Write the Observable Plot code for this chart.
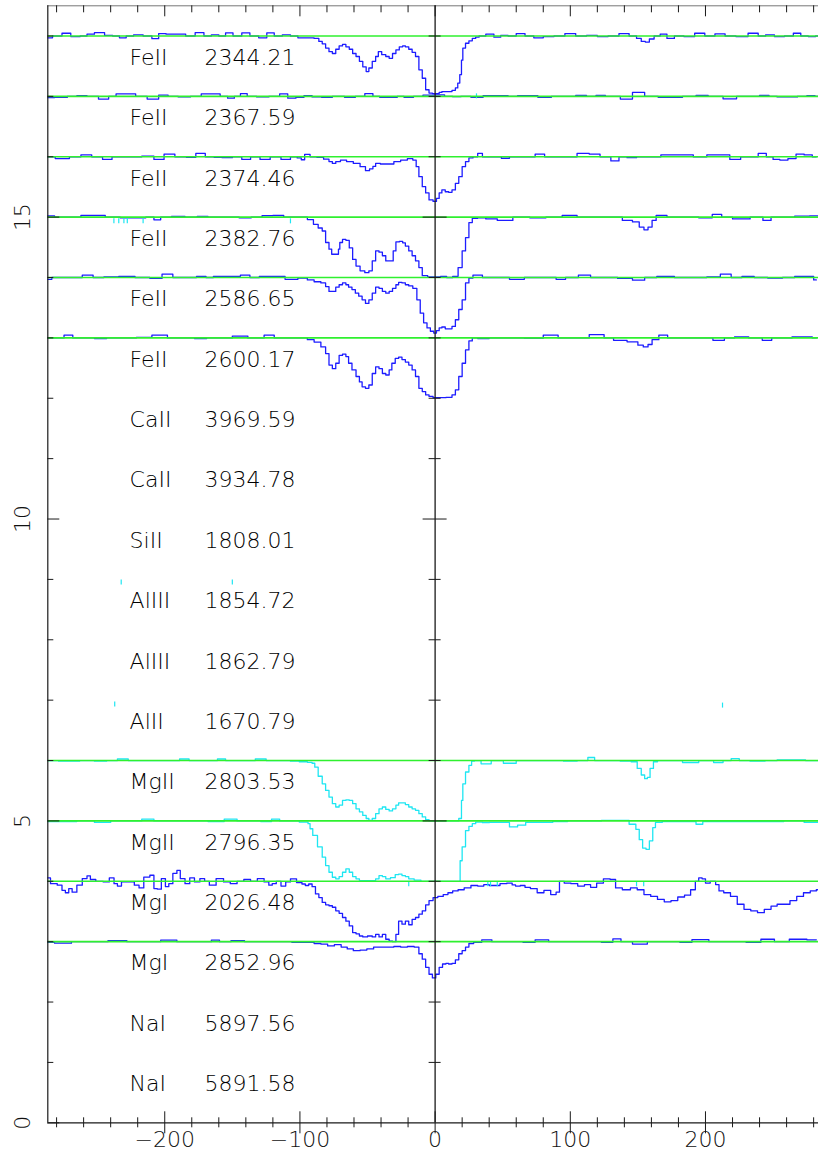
<!DOCTYPE html>
<html><head><meta charset="utf-8">
<script src="https://cdn.jsdelivr.net/npm/d3@7"></script>
<script src="https://cdn.jsdelivr.net/npm/@observablehq/plot@0.6"></script>
<style>body{margin:0;background:#fff}</style>
</head><body><div id="chart"></div>
<script>
// ---- labels ----
const ions = ["FeII","FeII","FeII","FeII","FeII","FeII","CaII","CaII","SiII","AlIII","AlIII","AlII","MgII","MgII","MgI","MgI","NaI","NaI"];
const wavelengths = ["2344.21","2367.59","2374.46","2382.76","2586.65","2600.17","3969.59","3934.78","1808.01","1854.72","1862.79","1670.79","2803.53","2796.35","2026.48","2852.96","5897.56","5891.58"];
const rowOffsets = [18,17,16,15,14,13,12,11,10,9,8,7,6,5,4,3,2,1];
const continuumRows = [18,17,16,15,14,13,6,5,4,3];
const xMajorTicks = [-200,-100,0,100,200];
const xMinorTicks = [-280,-260,-240,-220,-180,-160,-140,-120,-80,-60,-40,-20,20,40,60,80,120,140,160,180,220,240,260,280];
const yMajorTicks = [0,5,10,15];
const yMinorTicks = [1,2,3,4,6,7,8,9,11,12,13,14,16,17,18];

// ---- spectra: [velocity km/s, normalised flux] ----
const feII2344 = [[-287,0.97],[-279,1.0],[-273,1.045],[-266,0.99],[-259,1.0],[-256,1.03],[-248,1.055],[-241,1.01],[-236,1.0],[-231,0.97],[-226,1.0],[-220,1.02],[-212,1.0],[-207,0.955],[-202,1.04],[-196,1.03],[-188,1.03],[-181,1.0],[-174,1.055],[-168,1.0],[-163,1.02],[-157,1.0],[-153,1.05],[-146,1.0],[-140,1.05],[-134,1.0],[-127,0.97],[-122,1.05],[-116,1.0],[-110,1.02],[-104,1.0],[-99,0.97],[-95,0.97],
[-92,0.97],[-87,0.96],[-85,0.91],[-82,0.87],[-80,0.80],[-77,0.74],[-75,0.71],[-72,0.78],[-70,0.835],[-67,0.86],[-65,0.82],[-62,0.78],[-60,0.71],[-57,0.66],[-55,0.58],[-52,0.49],[-50,0.41],[-48,0.47],[-45,0.58],[-43,0.66],[-41,0.74],[-38,0.69],[-35,0.66],[-33,0.63],[-30,0.71],[-28,0.77],[-25,0.82],[-23,0.835],[-21,0.82],[-18,0.78],[-16,0.73],[-13,0.66],[-11,0.44],[-8,0.30],[-6,0.11],[-3,0.055],[-1,0.045],[2,0.045],[4,0.066],[6,0.08],[9,0.08],[11,0.08],[14,0.10],[16,0.14],[17.5,0.22],[19,0.36],[20,0.60],[21,0.80],[24,0.88],[26,0.92],[29,0.96],[31,0.98],[34,1.0],
[41,1.03],[46,0.98],[51,1.01],[57,1.0],[63,1.04],[70,1.0],[76,0.97],[84,0.99],[92,1.0],[100,1.04],[108,1.0],[116,1.01],[124,0.99],[132,1.0],[140,1.04],[147,1.0],[151,0.96],[154,0.91],[157,0.90],[160,0.95],[164,1.0],[169,1.03],[174,0.96],[180,1.0],[188,0.99],[196,1.045],[203,1.0],[211,1.035],[218,1.0],[227,0.99],[236,1.045],[242,1.0],[247,1.02],[255,0.99],[262,1.0],[268,1.045],[273,1.0],[279,0.99],[284,1.0]];

const feII2367 = [[-287,0.98],[-276,0.985],[-268,1.0],[-262,1.01],[-253,1.0],[-245,0.955],[-238,1.0],[-234,1.04],[-225,1.04],[-218,1.0],[-208,0.955],[-201,1.02],[-194,1.0],[-186,0.99],[-176,1.0],[-170,1.04],[-162,1.04],[-156,1.0],[-151,0.97],[-146,1.0],[-142,1.045],[-136,1.0],[-128,0.99],[-118,1.0],[-112,1.04],[-106,0.97],[-100,0.985],[-94,1.01],[-88,0.99],[-80,0.985],[-72,1.0],[-62,0.985],[-56,1.0],[-48,1.045],[-44,1.0],[-38,0.985],[-30,0.985],[-26,1.0],[-20,0.985],[-12,1.0],[-6,1.02],[4,1.025],[10,1.0],[16,0.995],[22,1.0],[31,0.985],[40,1.01],[50,1.01],[58,1.0],[64,1.01],[72,1.01],[80,0.985],[92,1.0],[100,1.0],[108,1.015],[116,1.0],[122,1.015],[130,1.0],[144,0.955],[148,1.065],[162,1.0],[168,0.985],[178,0.985],[188,1.0],[198,1.015],[206,1.0],[220,0.96],[226,1.0],[236,1.0],[244,1.015],[250,1.0],[256,0.99],[264,0.99],[272,1.0],[278,1.01],[284,1.0]];

const feII2374 = [[-287,1.0],[-275,0.97],[-266,1.0],[-258,1.03],[-250,1.0],[-242,0.955],[-236,1.0],[-222,1.0],[-212,1.01],[-204,0.955],[-197,1.045],[-188,1.0],[-180,0.99],[-174,1.055],[-166,1.0],[-161,0.99],[-154,0.985],[-146,1.0],[-140,0.955],[-133,1.0],[-126,0.955],[-118,1.0],[-110,0.955],[-104,1.0],[-100,0.98],[-98,0.95],[-95,1.04],[-90,1.0],[-85,0.99],[-80,0.96],[-77,0.92],[-75,0.89],[-72,0.92],[-68,0.945],[-63,0.92],[-58,0.89],[-53,0.835],[-50,0.77],[-47,0.80],[-45,0.84],[-43,0.89],[-38,0.88],[-33,0.88],[-28,0.92],[-23,0.945],[-18,0.97],[-15,0.945],[-13,0.835],[-11,0.67],[-8,0.505],[-6,0.40],[-3,0.285],[0,0.26],[2,0.31],[4,0.40],[6,0.45],[9,0.42],[11,0.41],[14,0.45],[16,0.56],[19,0.67],[21,0.835],[24,0.92],[26,0.98],[30,1.0],[33,1.055],[37,1.0],[46,1.0],[52,0.975],[58,1.0],[70,1.0],[78,1.045],[84,1.0],[92,1.0],[100,1.0],[110,1.055],[118,1.045],[126,1.0],[134,0.93],[138,1.0],[146,0.985],[152,1.0],[160,1.0],[174,1.03],[186,1.03],[196,1.0],[206,1.03],[214,1.03],[222,0.955],[230,1.0],[236,1.0],[242,1.055],[248,1.0],[252,0.955],[258,0.945],[264,0.97],[270,1.045],[276,1.03],[282,1.0]];

const feII2382 = [[-287,1.02],[-276,1.0],[-266,1.0],[-258,1.03],[-248,1.03],[-240,1.0],[-226,0.99],[-218,0.99],[-210,1.0],[-206,0.955],[-200,1.0],[-190,1.01],[-180,1.0],[-172,1.01],[-164,1.0],[-150,1.0],[-140,0.99],[-132,1.0],[-124,1.025],[-116,1.03],[-108,1.0],[-100,1.0],
[-97,1.0],[-92,0.96],[-88,0.88],[-85,0.82],[-82,0.77],[-80,0.58],[-77,0.47],[-76,0.385],[-72,0.385],[-71,0.47],[-70,0.58],[-67,0.63],[-65,0.615],[-62,0.49],[-60,0.30],[-57,0.19],[-54,0.11],[-50,0.08],[-48,0.11],[-45,0.275],[-43,0.44],[-40,0.42],[-38,0.36],[-35,0.275],[-32,0.275],[-30,0.44],[-28,0.59],[-25,0.60],[-23,0.575],[-21,0.52],[-18,0.44],[-16,0.36],[-13,0.275],[-11,0.165],[-8,0.03],[-3,0.01],[2,0.01],[6,0.02],[11,0.0],[15,0.02],[19,0.165],[21,0.44],[24,0.66],[26,0.91],[29,0.98],[34,0.99],
[41,0.97],[51,0.945],[64,1.0],[76,0.99],[88,1.0],[100,1.03],[110,1.0],[122,1.0],[134,1.0],[143,0.945],[149,0.92],[153,0.835],[156,0.79],[159,0.835],[162,0.945],[165,1.03],[178,1.0],[190,1.0],[200,0.99],[210,1.045],[214,1.0],[226,0.97],[240,1.0],[245,0.945],[252,1.0],[262,1.0],[270,1.015],[284,1.02]];

const feII2586 = [[-287,0.97],[-280,1.0],[-266,1.0],[-256,1.04],[-250,1.0],[-240,1.01],[-228,1.02],[-216,1.0],[-206,0.985],[-198,1.055],[-190,1.0],[-180,1.0],[-173,1.02],[-166,1.0],[-162,1.02],[-148,1.02],[-140,1.04],[-134,1.0],[-126,1.02],[-116,1.02],[-106,0.97],[-97,0.99],
[-92,0.96],[-87,0.93],[-82,0.91],[-80,0.85],[-77,0.77],[-75,0.77],[-72,0.84],[-70,0.88],[-67,0.91],[-65,0.88],[-63,0.84],[-60,0.80],[-58,0.74],[-55,0.69],[-53,0.63],[-50,0.57],[-48,0.63],[-45,0.74],[-43,0.84],[-40,0.82],[-38,0.77],[-35,0.74],[-33,0.77],[-30,0.82],[-28,0.88],[-26,0.92],[-23,0.91],[-21,0.88],[-18,0.86],[-15,0.82],[-12,0.63],[-10,0.41],[-7,0.25],[-5,0.165],[-2,0.11],[0,0.08],[2,0.12],[4,0.165],[6,0.18],[9,0.15],[11,0.15],[14,0.19],[16,0.30],[19,0.47],[21,0.63],[24,0.91],[26,0.99],
[30,1.04],[40,1.0],[52,1.0],[58,0.97],[74,1.0],[86,1.0],[93,0.97],[100,1.0],[112,1.04],[118,1.0],[130,1.0],[140,0.985],[152,0.955],[158,1.0],[170,1.02],[184,1.0],[196,1.0],[206,1.01],[216,1.055],[222,1.0],[232,1.02],[240,1.0],[252,0.99],[262,1.0],[270,1.02],[278,1.02],[282,0.96]];

const feII2600 = [[-287,1.0],[-277,1.0],[-272,1.045],[-264,1.0],[-256,1.0],[-248,0.99],[-238,1.0],[-226,1.0],[-216,1.01],[-203,1.045],[-193,1.0],[-182,1.0],[-174,0.99],[-164,1.0],[-152,1.0],[-148,1.03],[-129,1.0],[-124,1.045],[-114,1.0],[-104,1.0],[-97,1.0],
[-92,0.97],[-87,0.93],[-82,0.85],[-80,0.74],[-77,0.55],[-75,0.49],[-72,0.58],[-70,0.71],[-67,0.73],[-65,0.69],[-63,0.58],[-60,0.47],[-57,0.36],[-55,0.27],[-53,0.19],[-50,0.165],[-48,0.22],[-45,0.41],[-43,0.52],[-40,0.49],[-38,0.41],[-35,0.385],[-33,0.47],[-31,0.58],[-28,0.66],[-26,0.68],[-23,0.64],[-21,0.60],[-18,0.55],[-16,0.47],[-13,0.36],[-11,0.165],[-8,0.11],[-6,0.055],[-3,0.03],[0,0.01],[5,0.01],[11,0.016],[14,0.055],[16,0.14],[19,0.36],[21,0.58],[24,0.80],[26,0.95],[29,1.0],
[34,0.99],[46,1.0],[60,1.0],[72,0.995],[88,1.045],[94,1.0],[106,1.0],[122,1.055],[128,1.0],[136,0.96],[148,0.935],[152,0.88],[156,0.85],[159,0.89],[162,0.97],[169,1.045],[175,1.0],[186,1.0],[200,1.0],[211,0.96],[217,1.0],[226,1.015],[238,1.0],[246,0.96],[252,1.0],[262,1.0],[266,1.015],[276,1.015],[282,1.0]];

const mgII2803 = [[-287,1.0],[-270,0.99],[-256,1.0],[-248,0.99],[-238,1.0],[-232,1.025],[-222,1.0],[-206,1.0],[-192,1.0],[-186,1.025],[-178,1.0],[-164,1.0],[-158,1.025],[-152,1.0],[-138,1.0],[-128,1.025],[-122,1.0],[-110,1.0],[-104,0.99],[-97,0.98],
[-92,0.97],[-90,0.955],[-88,0.89],[-85,0.74],[-82,0.615],[-80,0.505],[-77,0.395],[-75,0.285],[-72,0.23],[-70,0.26],[-67,0.34],[-65,0.35],[-62,0.34],[-60,0.285],[-57,0.20],[-55,0.15],[-52,0.09],[-50,0.04],[-48,0.01],[-45,0.04],[-43,0.12],[-40,0.20],[-38,0.23],[-35,0.19],[-33,0.165],[-30,0.20],[-28,0.26],[-26,0.30],[-23,0.30],[-21,0.27],[-18,0.23],[-16,0.20],[-13,0.175],[-11,0.12],[-8,0.066],[-6,0.02],[-3,0.0],[16,0.0],[19,0.04],[20,0.34],[21,0.615],[24,0.81],[26,0.92],[28,0.99],
[30,1.0],[38,0.945],[45,1.0],[56,0.955],[64,1.0],[76,1.0],[90,1.0],[100,0.99],[110,1.0],[116,1.05],[120,1.0],[132,1.0],[142,0.99],[148,0.98],[151,0.87],[154,0.76],[156,0.70],[158,0.72],[160,0.87],[163,0.98],[166,1.0],[178,1.0],[188,0.967],[202,1.0],[210,0.967],[216,1.0],[222,1.03],[228,1.0],[238,0.99],[250,1.0],[256,1.01],[270,1.01],[278,1.0],[284,1.0]];

const mgII2796 = [[-287,0.99],[-270,0.99],[-260,1.0],[-244,0.975],[-236,1.0],[-222,1.0],[-212,1.03],[-204,1.0],[-190,1.0],[-174,1.0],[-162,0.99],[-150,1.03],[-143,1.0],[-134,1.0],[-124,0.99],[-118,1.03],[-112,1.0],[-104,1.0],[-97,0.98],
[-95,0.98],[-93,0.955],[-92,0.87],[-89,0.76],[-85,0.57],[-82,0.40],[-80,0.26],[-77,0.15],[-75,0.067],[-72,0.04],[-70,0.078],[-67,0.15],[-65,0.205],[-62,0.15],[-60,0.078],[-57,0.04],[-55,0.01],[-45,0.01],[-43,0.04],[-40,0.094],[-38,0.078],[-35,0.04],[-31,0.06],[-28,0.11],[-26,0.12],[-23,0.094],[-21,0.078],[-18,0.04],[-13,0.02],[-8,0.0],[18,0.0],[19,0.34],[21,0.57],[24,0.84],[26,0.91],[29,0.955],[31,0.98],[34,0.98],
[36,0.97],[44,0.975],[52,0.975],[58,0.90],[64,0.93],[70,0.975],[82,0.975],[92,0.99],[104,1.0],[120,1.0],[126,1.01],[140,1.01],[147,0.945],[150,0.86],[152,0.69],[155,0.55],[157,0.53],[160,0.67],[162,0.89],[164,0.975],[172,0.99],[190,0.99],[196,0.945],[200,0.99],[216,0.99],[236,0.99],[250,0.99],[266,1.0],[280,0.975],[284,0.975]];

const mgI2026 = [[-287,1.055],[-282,0.96],[-277,0.935],[-275,0.85],[-272,0.81],[-270,0.88],[-267,0.82],[-263,0.935],[-259,1.045],[-256,1.09],[-254,1.03],[-248,1.0],[-243,0.99],[-239,1.055],[-236,0.96],[-234,0.92],[-230,0.99],[-225,0.99],[-220,0.935],[-218,0.89],[-213,1.07],[-209,1.10],[-207,0.88],[-204,0.87],[-201,1.045],[-198,0.91],[-196,0.96],[-192,1.13],[-190,1.18],[-187,1.045],[-183,0.96],[-180,1.055],[-176,0.99],[-172,1.045],[-169,1.0],[-165,0.935],[-159,1.045],[-154,0.99],[-149,0.96],[-144,1.0],[-139,1.03],[-134,1.0],[-129,1.045],[-124,0.99],[-122,0.935],[-119,0.96],[-116,1.0],[-112,0.92],[-109,0.99],[-105,1.04],[-100,0.98],[-97,0.955],[-95,0.93],[-92,0.955],[-90,0.91],
[-87,0.79],[-85,0.73],[-82,0.65],[-80,0.61],[-77,0.595],[-75,0.57],[-72,0.51],[-70,0.47],[-67,0.40],[-65,0.34],[-62,0.26],[-60,0.15],[-57,0.13],[-55,0.094],[-52,0.078],[-48,0.094],[-45,0.078],[-43,0.12],[-40,0.078],[-38,0.12],[-35,0.04],[-33,0.01],[-30,0.0],[-28,0.12],[-26,0.34],[-23,0.29],[-21,0.34],[-18,0.28],[-16,0.37],[-13,0.40],[-11,0.455],[-8,0.51],[-6,0.61],[-3,0.68],
[0,0.73],[4,0.75],[8,0.78],[11,0.81],[15,0.84],[19,0.86],[24,0.89],[29,0.93],[34,0.92],[38,0.945],[42,0.93],[46,0.93],[50,0.96],[56,0.97],[58,0.94],[61,0.92],[65,0.93],[68,0.90],[73,0.88],[78,0.81],[83,0.85],[88,0.78],[91,0.82],[93,1.0],[98,0.97],[103,0.96],[108,0.92],[113,0.945],[117,0.90],[122,0.97],[127,1.04],[132,1.03],[135,0.89],[142,0.86],[147,0.89],[152,0.86],[157,0.78],[162,0.75],[167,0.70],[172,0.66],[177,0.68],[182,0.74],[187,0.77],[191,0.86],[194,1.0],[196,1.055],[199,1.04],[201,0.97],[206,1.0],[209,0.945],[211,0.84],[216,0.81],[221,0.75],[226,0.62],[231,0.535],[236,0.51],[241,0.48],[246,0.535],[251,0.59],[255,0.62],[260,0.62],[265,0.68],[270,0.75],[275,0.81],[280,0.84],[284,0.86]];

const mgI2852 = [[-287,0.99],[-276,0.975],[-262,1.0],[-250,1.0],[-234,1.015],[-222,1.0],[-210,1.0],[-196,1.025],[-186,1.0],[-168,1.0],[-163,1.025],[-156,1.0],[-146,1.015],[-136,1.0],[-124,1.0],[-112,1.0],[-100,0.99],
[-92,0.99],[-87,0.97],[-82,0.96],[-77,0.93],[-72,0.95],[-67,0.91],[-63,0.88],[-58,0.85],[-53,0.86],[-48,0.88],[-43,0.91],[-33,0.91],[-28,0.92],[-23,0.91],[-18,0.92],[-13,0.91],[-11,0.80],[-8,0.71],[-6,0.575],[-3,0.46],[-1,0.40],[2,0.46],[4,0.575],[7,0.63],[9,0.64],[11,0.63],[14,0.64],[16,0.70],[19,0.80],[21,0.85],[24,0.91],[26,0.97],
[31,0.99],[38,1.03],[46,1.0],[60,1.0],[70,0.99],[78,1.03],[90,1.0],[104,1.0],[118,1.0],[128,0.99],[135,1.045],[140,1.0],[152,0.96],[162,1.0],[176,1.0],[186,0.99],[194,1.035],[211,1.0],[224,1.0],[236,0.99],[246,1.04],[256,1.0],[268,1.04],[282,1.03]];

// isolated cyan pixels: [velocity, plot y]
const cyanSpecks = [[-237.6,14.93],[-234,14.93],[-230.2,14.93],[-227.7,14.93],[-216,14.93],[-107,14.93],[30.6,17.0],[-232.2,8.95],[-150,8.95],[-237,6.93],[212.6,6.91],[-19.5,3.95],[39,3.95],[41,3.95],[46,3.95],[149,3.95],[154.3,3.95]];

const BLUE = "#1c1cff", CYAN = "#1ee6f2", GREEN = "#2ff02f", INK = "#1a1a1a";
const spectra = [
  {offset: 18, color: BLUE, data: feII2344},
  {offset: 17, color: BLUE, data: feII2367},
  {offset: 16, color: BLUE, data: feII2374},
  {offset: 15, color: BLUE, data: feII2382},
  {offset: 14, color: BLUE, data: feII2586},
  {offset: 13, color: BLUE, data: feII2600},
  {offset: 6, color: CYAN, data: mgII2803},
  {offset: 5, color: CYAN, data: mgII2796},
  {offset: 4, color: BLUE, data: mgI2026},
  {offset: 3, color: BLUE, data: mgI2852}
];
const table = spectra.flatMap(s => s.data.map(([v, f]) => ({v, y: s.offset - 1 + f, id: s.offset, color: s.color})));
const labels = rowOffsets.map((o, i) => ({o, ion: ions[i], wave: wavelengths[i]}));

const X0 = -286.5, X1 = 283.6, YTOP = 18.5;
const fmt = d => d < 0 ? "\u2212" + Math.abs(d) : String(d);

const chart = Plot.plot({
  width: 818, height: 1160,
  marginLeft: 47.3, marginRight: 0, marginTop: 5.3, marginBottom: 37.7,
  x: {domain: [X0, X1], axis: null},
  y: {domain: [0, YTOP], axis: null},
  style: {fontFamily: "'DejaVu Sans', sans-serif", fontWeight: 200, background: "white", color: INK},
  marks: [
    Plot.line(table.filter(d => d.color === BLUE), {x: "v", y: "y", z: "id", stroke: BLUE, strokeWidth: 1.3, curve: "step", clip: true}),
    Plot.line(table.filter(d => d.color === CYAN), {x: "v", y: "y", z: "id", stroke: CYAN, strokeWidth: 1.3, curve: "step", clip: true}),
    Plot.ruleX(cyanSpecks, {x: d => d[0], y1: d => d[1], y2: d => d[1], insetTop: -2.5, insetBottom: -2.5, stroke: CYAN, strokeWidth: 1.2}),
    Plot.ruleY(continuumRows, {y: d => d, stroke: GREEN, strokeWidth: 1.6}),
    // frame
    Plot.ruleY([0], {stroke: INK, strokeWidth: 1.2}),
    Plot.ruleY([YTOP], {stroke: "#777", strokeWidth: 1}),
    Plot.ruleX([X0], {stroke: INK, strokeWidth: 1.2}),
    Plot.ruleX([0], {stroke: INK, strokeWidth: 1.3}),
    // bottom ticks (crossing)
    Plot.ruleX(xMinorTicks, {x: d => d, y1: 0, y2: 0, insetTop: -5, insetBottom: -5, stroke: INK}),
    Plot.ruleX(xMajorTicks, {x: d => d, y1: 0, y2: 0, insetTop: -11, insetBottom: -11, stroke: INK}),
    // top ticks (inward)
    Plot.ruleX(xMinorTicks, {x: d => d, y1: YTOP, y2: YTOP, insetTop: 0, insetBottom: -7, stroke: INK}),
    Plot.ruleX(xMajorTicks, {x: d => d, y1: YTOP, y2: YTOP, insetTop: 0, insetBottom: -11, stroke: INK}),
    // left ticks (inward)
    Plot.ruleY(yMinorTicks, {y: d => d, x1: X0, x2: X0, insetLeft: 0, insetRight: -6, stroke: INK}),
    Plot.ruleY(yMajorTicks, {y: d => d, x1: X0, x2: X0, insetLeft: 0, insetRight: -12, stroke: INK}),
    // ticks on the zero-velocity line
    Plot.ruleY(yMinorTicks, {y: d => d, x1: 0, x2: 0, insetLeft: -6, insetRight: -6, stroke: INK}),
    Plot.ruleY(yMajorTicks.filter(d => d > 0), {y: d => d, x1: 0, x2: 0, insetLeft: -12, insetRight: -12, stroke: INK}),
    // tick labels
    Plot.text(xMajorTicks, {x: d => d, frameAnchor: "bottom", dy: 24, text: fmt, fontSize: 22, fill: "#111"}),
    Plot.text(yMajorTicks, {x: X0, y: d => d, dx: -25, text: d => String(d), rotate: -90, fontSize: 22, fill: "#111"}),
    // row labels
    Plot.text(labels, {x: -226, y: d => d.o - 0.36, text: "ion", textAnchor: "start", fontSize: 22, fill: "#000"}),
    Plot.text(labels, {x: -170.5, y: d => d.o - 0.36, text: "wave", textAnchor: "start", fontSize: 22, fill: "#000"})
  ]
});
document.getElementById("chart").appendChild(chart);
</script>
</body></html>
